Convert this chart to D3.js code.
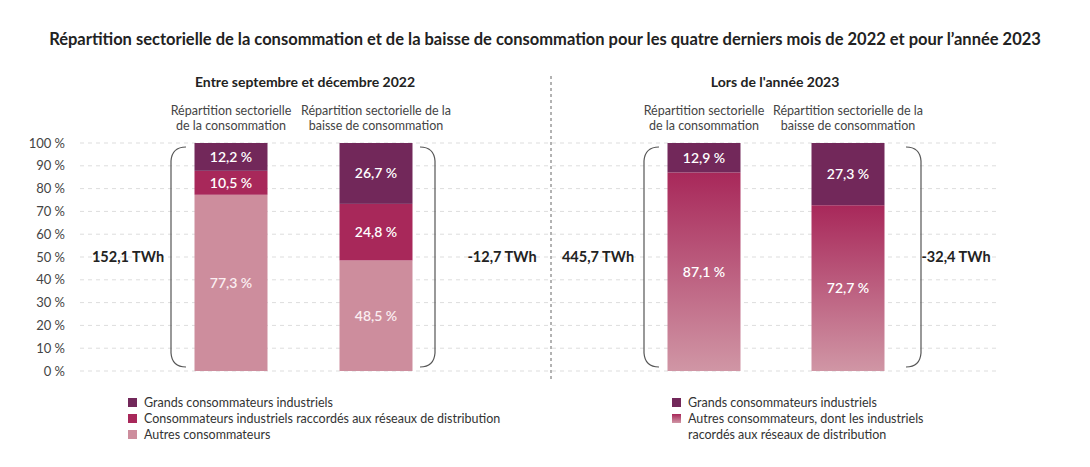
<!DOCTYPE html>
<html><head><meta charset="utf-8">
<script src="https://cdn.jsdelivr.net/npm/d3@7"></script>
<style>body{margin:0;background:#fff;font-family:Lato,"Noto Sans",sans-serif;}</style>
</head><body><div id="chart"></div>
<script>
var yTicks = [0, 10, 20, 30, 40, 50, 60, 70, 80, 90, 100];
var panelTitles = ["Entre septembre et décembre 2022", "Lors de l'année 2023"];
var barHeaders = [["Répartition sectorielle", "de la consommation"], ["Répartition sectorielle de la", "baisse de consommation"]];
// each bar: segments bottom->top
var bars2022 = [
    [{k: "autres", v: 77.3}, {k: "raccordes", v: 10.5}, {k: "grands", v: 12.2}],
    [{k: "autres", v: 48.5}, {k: "raccordes", v: 24.8}, {k: "grands", v: 26.7}]
];
var bars2023 = [
    [{k: "autres23", v: 87.1}, {k: "grands", v: 12.9}],
    [{k: "autres23", v: 72.7}, {k: "grands", v: 27.3}]
];
var totals2022 = ["152,1 TWh", "-12,7 TWh"];
var totals2023 = ["445,7 TWh", "-32,4 TWh"];
var legend2022 = [{k: "grands", t: ["Grands consommateurs industriels"]}, {k: "raccordes", t: ["Consommateurs industriels raccordés aux réseaux de distribution"]}, {k: "autres", t: ["Autres consommateurs"]}];
var legend2023 = [{k: "grands", t: ["Grands consommateurs industriels"]}, {k: "autres23", t: ["Autres consommateurs, dont les industriels", "racordés aux réseaux de distribution"]}];

var width = 1090, height = 467;
var svg = d3.select("#chart").append("svg").attr("width", width).attr("height", height);
var defs = svg.append("defs");
var grad = defs.append("linearGradient").attr("id", "g23").attr("x1", 0).attr("x2", 0).attr("y1", 0).attr("y2", 1);
grad.append("stop").attr("offset", "0%").attr("stop-color", "#a8285a");
grad.append("stop").attr("offset", "100%").attr("stop-color", "#d096a5");
var fills = {grands: "#72285a", raccordes: "#a8285a", autres: "#cd8d9d", autres23: "url(#g23)"};

var y = d3.scaleLinear().domain([0, 100]).range([371, 143]);

svg.append("text").attr("x", 545).attr("y", 45).attr("text-anchor", "middle")
    .attr("font-size", 16.5).attr("font-weight", 700).attr("fill", "#222")
    .text("Répartition sectorielle de la consommation et de la baisse de consommation pour les quatre derniers mois de 2022 et pour l’année 2023");

// grid + y axis
var yAxis = d3.axisLeft(y).tickValues(yTicks).tickFormat(function (d) { return d + " %"; }).tickSize(0);
var ga = svg.append("g").attr("transform", "translate(68,0)").call(yAxis);
ga.select(".domain").remove();
ga.selectAll("text").attr("font-size", 13).attr("fill", "#444").attr("font-family", "Lato");
svg.append("g").selectAll("line").data(yTicks).enter().append("line")
    .attr("x1", 80).attr("x2", 1000).attr("y1", function (d) { return y(d); }).attr("y2", function (d) { return y(d); })
    .attr("stroke", "#ddd").attr("stroke-dasharray", "4,4");

svg.append("line").attr("x1", 551).attr("x2", 551).attr("y1", 76).attr("y2", 382)
    .attr("stroke", "#666").attr("stroke-dasharray", "3,3");

var panels = [
    {title: panelTitles[0], cx: 305, bars: bars2022, centers: [231, 376], totals: totals2022, totX: [128, 502], brace: [184, 422], legend: legend2022, legX: 128},
    {title: panelTitles[1], cx: 775, bars: bars2023, centers: [704, 848], totals: totals2023, totX: [598, 956], brace: [657, 908], legend: legend2023, legX: 672}
];
var bw = 73;

panels.forEach(function (p) {
    svg.append("text").attr("x", p.cx).attr("y", 87).attr("text-anchor", "middle")
        .attr("font-size", 14).attr("font-weight", 700).attr("fill", "#222").text(p.title);
    p.bars.forEach(function (bar, i) {
        var cx = p.centers[i];
        barHeaders[i].forEach(function (l, j) {
            svg.append("text").attr("x", cx).attr("y", 115 + j * 15).attr("text-anchor", "middle")
                .attr("font-size", 12.5).attr("fill", "#444").text(l);
        });
        var acc = 0;
        var segs = bar.map(function (s) { var o = {k: s.k, v: s.v, y0: acc, y1: acc + s.v}; acc += s.v; return o; });
        var g = svg.append("g");
        g.selectAll("rect").data(segs).enter().append("rect")
            .attr("x", cx - bw / 2).attr("width", bw)
            .attr("y", function (d) { return y(Math.min(d.y1, 100)); })
            .attr("height", function (d) { return y(d.y0) - y(Math.min(d.y1, 100)); })
            .attr("fill", function (d) { return fills[d.k]; });
        g.selectAll("text").data(segs).enter().append("text")
            .attr("x", cx).attr("y", function (d) { return y((d.y0 + Math.min(d.y1, 100)) / 2) + 5; })
            .attr("text-anchor", "middle").attr("font-size", 14).attr("font-weight", 600)
            .attr("fill", function (d) { return d.k === "autres" ? "#fbeef1" : "#fff"; })
            .text(function (d) { return d3.format(".1f")(d.v).replace(".", ",") + " %"; });
    });
    // braces
    p.brace.forEach(function (bx, i) {
        var dir = i === 0 ? -1 : 1, t = y(100) + 4, b = y(0) - 4, r = 14;
        var path = "M" + (bx - dir * 2) + "," + t + " Q" + (bx + dir * 12) + "," + t + " " + (bx + dir * 13) + "," + (t + r) +
            " L" + (bx + dir * 13) + "," + (b - r) + " Q" + (bx + dir * 12) + "," + b + " " + (bx - dir * 2) + "," + b;
        svg.append("path").attr("d", path).attr("fill", "none").attr("stroke", "#555").attr("stroke-width", 1.2);
        svg.append("text").attr("x", p.totX[i]).attr("y", y(50) + 5).attr("text-anchor", "middle")
            .attr("font-size", 14.5).attr("font-weight", 700).attr("fill", "#222").text(p.totals[i]);
    });
    // legend
    var row = 0;
    p.legend.forEach(function (l) {
        svg.append("rect").attr("x", p.legX).attr("y", 398 + row * 16).attr("width", 9).attr("height", 9).attr("fill", fills[l.k]);
        l.t.forEach(function (line) {
            svg.append("text").attr("x", p.legX + 16).attr("y", 407 + row * 16).attr("font-size", 12.5).attr("fill", "#333").text(line);
            row++;
        });
    });
});
</script></body></html>
